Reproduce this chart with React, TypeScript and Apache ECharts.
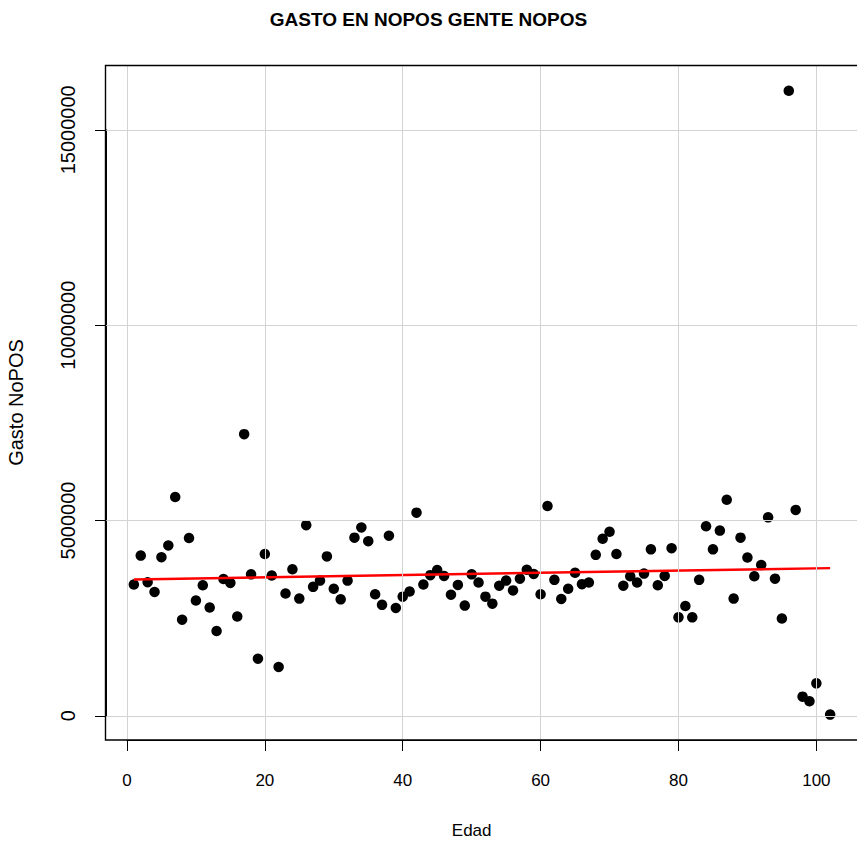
import React, { useEffect, useRef } from "react";
import * as echarts from "echarts";

const titleText = "GASTO EN NOPOS GENTE NOPOS";
const xName = "Edad";
const yName = "Gasto NoPOS";

const edad = [
  1, 2, 3, 4, 5, 6, 7, 8, 9, 10, 11, 12, 13, 14, 15, 16, 17, 18, 19, 20,
  21, 22, 23, 24, 25, 26, 27, 28, 29, 30, 31, 32, 33, 34, 35, 36, 37, 38, 39, 40,
  41, 42, 43, 44, 45, 46, 47, 48, 49, 50, 51, 52, 53, 54, 55, 56, 57, 58, 59, 60,
  61, 62, 63, 64, 65, 66, 67, 68, 69, 70, 71, 72, 73, 74, 75, 76, 77, 78, 79, 80,
  81, 82, 83, 84, 85, 86, 87, 88, 89, 90, 91, 92, 93, 94, 95, 96, 97, 98, 99, 100,
  102,
];

// values in millions
const gastoM = [
  3.36, 4.1, 3.42, 3.17, 4.06, 4.36, 5.6, 2.46, 4.55, 2.95, 3.34, 2.77, 2.17, 3.5, 3.4, 2.54, 7.21, 3.62, 1.46, 4.14,
  3.59, 1.25, 3.13, 3.75, 3.0, 4.88, 3.3, 3.46, 4.08, 3.25, 2.98, 3.46, 4.56, 4.82, 4.47, 3.11, 2.84, 4.61, 2.76, 3.05,
  3.18, 5.2, 3.36, 3.6, 3.73, 3.58, 3.1, 3.35, 2.82, 3.62, 3.41, 3.05, 2.87, 3.33, 3.46, 3.21, 3.51, 3.74, 3.63, 3.11,
  5.37, 3.48, 2.99, 3.25, 3.66, 3.37, 3.41, 4.12, 4.53, 4.71, 4.14, 3.33, 3.57, 3.41, 3.64, 4.26, 3.34, 3.58, 4.29, 2.52,
  2.81, 2.52, 3.48, 4.85, 4.26, 4.74, 5.53, 3.0, 4.56, 4.05, 3.57, 3.86, 5.08, 3.51, 2.49, 16.0, 5.27, 0.49, 0.37, 0.83,
  0.03,
];

const trendX = [1, 102];
const trendM = [3.49, 3.78];

const xTicks = [0, 20, 40, 60, 80, 100];
const yTicks = [0, 5000000, 10000000, 15000000];

export default function App() {
  const ref = useRef<HTMLDivElement>(null);

  useEffect(() => {
    if (!ref.current) return;
    const chart = echarts.init(ref.current, null, { renderer: "svg" });

    const W0 = 857;
    const L = 106;
    const T = 65;
    const GW = 752;
    const GH = 675;
    const xMin = -3.04;
    const xMax = 106.04;
    const yMin = -620000;
    const yMax = 16660000;
    const px = (x: number) => L + ((x - xMin) / (xMax - xMin)) * GW;
    const py = (y: number) => T + GH - ((y - yMin) / (yMax - yMin)) * GH;

    const g1Left = px(xTicks[0]);
    const g1Right = W0 - px(xTicks[xTicks.length - 1]);
    const g1Top = py(yTicks[yTicks.length - 1]);
    const g1Height = py(yTicks[0]) - g1Top;

    const font = "Liberation Sans, Arial, Helvetica, sans-serif";
    const points = edad.map((a, i) => [a, gastoM[i] * 1e6]);
    const trend = trendX.map((a, i) => [a, trendM[i] * 1e6]);

    chart.setOption({
      animation: false,
      backgroundColor: "#ffffff",
      title: {
        text: titleText,
        left: "center",
        top: 5,
        textStyle: { fontFamily: font, fontSize: 19, fontWeight: "bold", color: "#000" },
      },
      grid: [
        { left: L, top: T, width: GW, height: GH, containLabel: false, outerBoundsMode: "none" },
        {
          left: g1Left,
          right: g1Right,
          top: g1Top,
          height: g1Height,
          containLabel: false,
          outerBoundsMode: "none",
        },
      ],
      xAxis: [
        {
          gridIndex: 0,
          type: "value",
          min: xMin,
          max: xMax,
          show: false,
        },
        {
          gridIndex: 1,
          type: "value",
          min: 0,
          max: 100,
          interval: 20,
          position: "bottom",
          offset: T + GH - py(0),
          axisLine: { show: true, onZero: false, lineStyle: { color: "#000", width: 1 } },
          axisTick: { show: true, inside: false, length: 11, lineStyle: { color: "#000", width: 1 } },
          axisLabel: { fontFamily: font, fontSize: 17, color: "#000", margin: 32 },
          splitLine: { show: false },
          name: xName,
          nameLocation: "middle",
          nameGap: 82,
          nameTextStyle: { fontFamily: font, fontSize: 17, color: "#000" },
        },
      ],
      yAxis: [
        {
          gridIndex: 0,
          type: "value",
          min: yMin,
          max: yMax,
          position: "left",
          axisLine: { show: false },
          axisTick: { show: false },
          axisLabel: { show: false },
          splitLine: { show: false },
          name: yName,
          nameLocation: "middle",
          nameGap: 80,
          nameRotate: 90,
          nameTextStyle: { fontFamily: font, fontSize: 20, color: "#000" },
        },
        {
          gridIndex: 1,
          type: "value",
          min: 0,
          max: 15000000,
          interval: 5000000,
          position: "left",
          offset: px(0) - L,
          axisLine: { show: true, onZero: false, lineStyle: { color: "#000", width: 1 } },
          axisTick: { show: true, inside: false, length: 11, lineStyle: { color: "#000", width: 1 } },
          axisLabel: {
            fontFamily: font,
            fontSize: 20,
            color: "#000",
            rotate: 90,
            margin: 28,
            formatter: (v: number) => String(v),
          },
          splitLine: { show: false },
        },
      ],
      graphic: [
        {
          type: "rect",
          shape: { x: 105.5, y: 65.5, width: 760, height: 674.5 },
          style: { fill: "none", stroke: "#000", lineWidth: 1.4 },
          silent: true,
          z: 100,
        },
      ],
      series: [
        {
          type: "line",
          xAxisIndex: 0,
          yAxisIndex: 0,
          data: [],
          z: 1,
          markLine: {
            silent: true,
            symbol: ["none", "none"],
            label: { show: false },
            lineStyle: { color: "#d3d3d3", width: 1, type: "solid" },
            data: [
              ...xTicks.map((v) => ({ xAxis: v })),
              ...yTicks.map((v) => ({ yAxis: v })),
            ],
          },
        },
        {
          type: "scatter",
          xAxisIndex: 0,
          yAxisIndex: 0,
          data: points,
          symbol: "circle",
          symbolSize: 10.5,
          itemStyle: { color: "#000", opacity: 1 },
          z: 3,
        },
        {
          type: "line",
          xAxisIndex: 0,
          yAxisIndex: 0,
          data: trend,
          showSymbol: false,
          symbol: "none",
          lineStyle: { color: "#ff0000", width: 2.5 },
          z: 4,
        },
      ],
    });

    return () => chart.dispose();
  }, []);

  return (
    <div
      ref={ref}
      style={{ position: "fixed", left: 0, top: 0, width: 857, height: 843, background: "#fff" }}
    />
  );
}
